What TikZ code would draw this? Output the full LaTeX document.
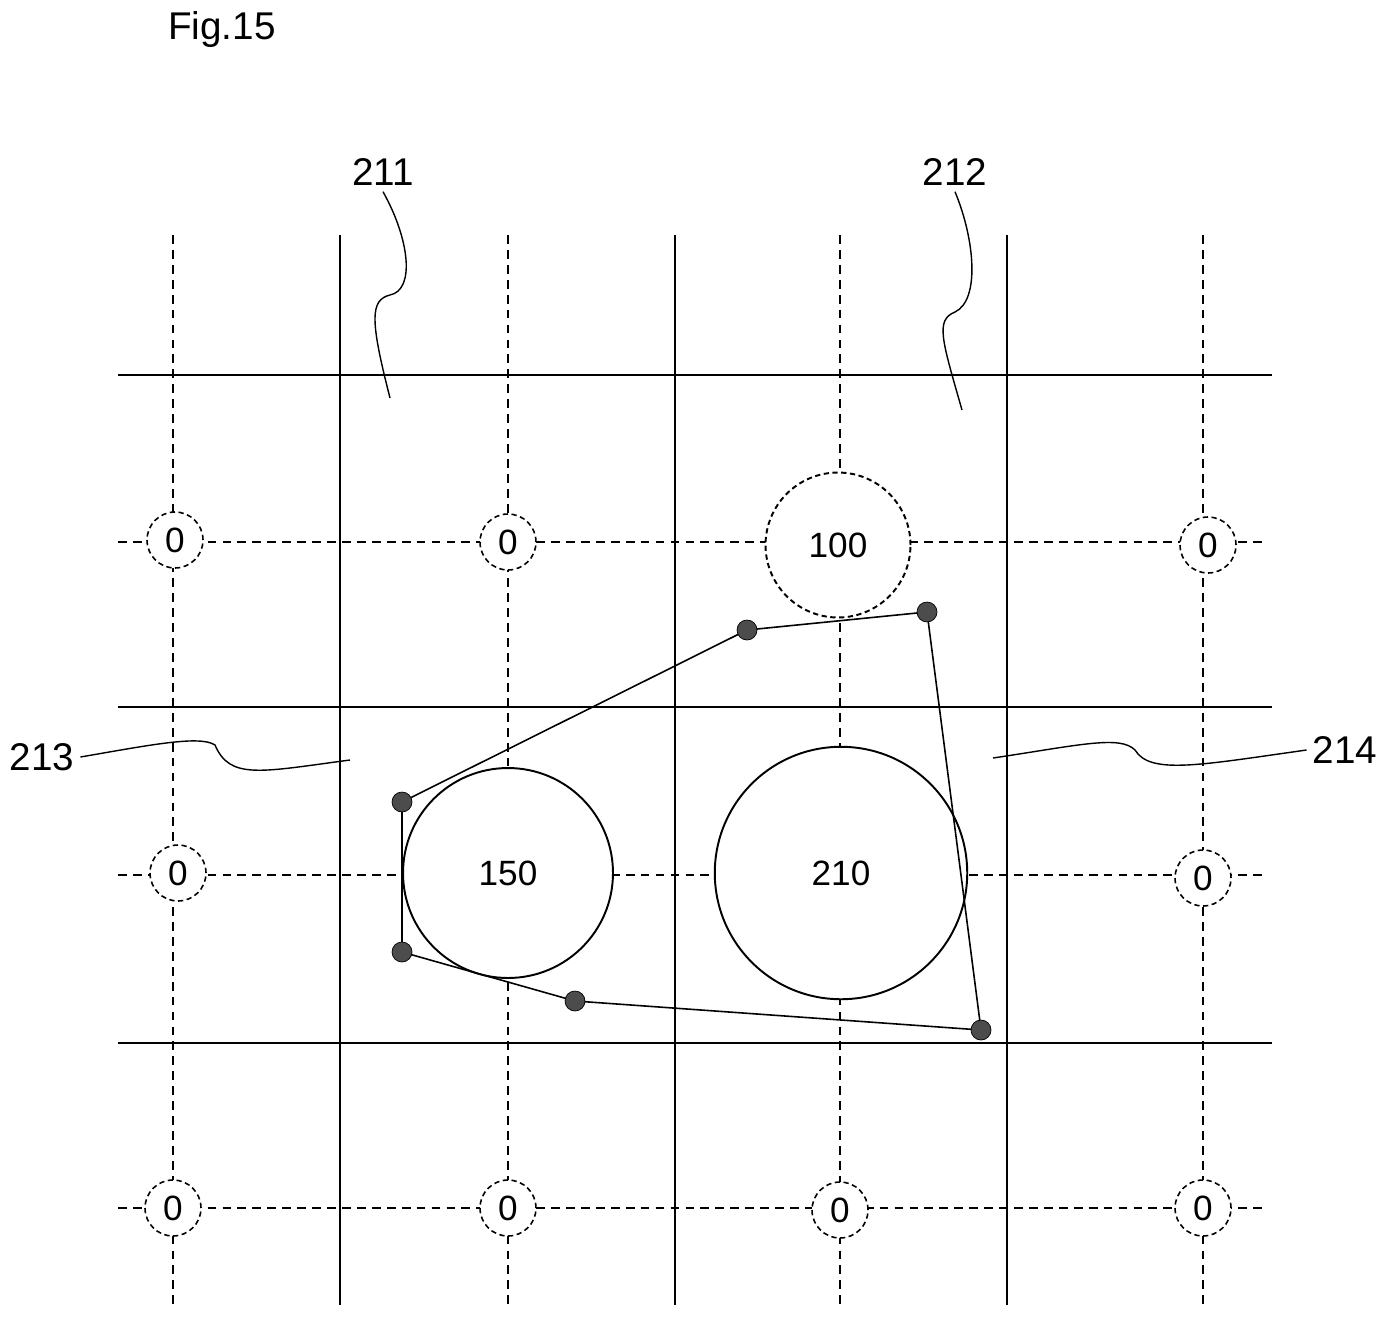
\documentclass[tikz,border=0pt]{standalone}
\usepackage{fontspec}
\setmainfont{Liberation Sans}
\usetikzlibrary{positioning}
\tikzset{
  grid/.style={line width=1.2pt},
  aux/.style={dash pattern=on 5pt off 3.5pt, line width=0.6pt},
  zero/.style={circle, draw, densely dashed, line width=0.9pt, minimum size=1.12cm, inner sep=0pt},
  cell/.style={circle, draw, line width=1.1pt, inner sep=0pt},
  pt/.style={circle, fill=black!70, draw=black, minimum size=0.4cm, inner sep=0pt},
  lbl/.style={font=\fontsize{22}{26}\selectfont}
}
\begin{document}
\begin{tikzpicture}[x=0.02cm, y=-0.02cm, every node/.style={font=\fontsize{20}{24}\selectfont}]
  \useasboundingbox (0,0) rectangle (1392,1325);

  \node [lbl] (fig) at (222,30) {Fig.15};

  % dashed center lines
  \foreach \x in {173,508,840,1203}
    \draw [aux] (\x,235) -- (\x,1305);
  \foreach \y in {542,875,1208}
    \draw [aux] (118,\y) -- (1262,\y);

  % grid boundaries
  \foreach \x in {340,675,1007}
    \draw [grid] (\x,235) -- (\x,1305);
  \foreach \y in {375,707,1043}
    \draw [grid] (118,\y) -- (1272,\y);

  % zero cells
  \foreach \x/\y [count=\i] in {175/540,508/542,1208/545,178/873,1203/878,173/1208,508/1208,840/1210,1203/1208}
    \node [zero, fill=white] (z\i) at (\x,\y) {0};

  \node [cell, densely dashed, fill=white, minimum size=2.9cm] (c100) at (838,545) {100};
  \node [cell, fill=white, minimum size=4.2cm] (c150) at (508,873) {150};
  \node [cell, fill=white, minimum size=5.05cm] (c210) at (841,873) {210};

  % hull
  \foreach \n/\x/\y in {p1/747/630,p2/927/612,p3/981/1030,p4/575/1001,p5/402/952,p6/402/802}
    \coordinate (\n) at (\x,\y);
  \draw [line width=0.9pt] (p1) -- (p2) -- (p3) -- (p4) -- (p5) -- (p6) -- cycle;
  \foreach \n in {p1,p2,p3,p4,p5,p6}
    \node [pt] at (\n) {};

  % labels
  \node [lbl] (l211) at (383,172) {211};
  \node [lbl] (l212) at (955,172) {212};
  \node [lbl] (l213) at (42,757) {213};
  \node [lbl] (l214) at (1345,750) {214};
  \draw [line width=0.8pt] (390,398) .. controls (370,320) and (370,300) .. (390,295)
    .. controls (415,290) and (410,240) .. (l211.south);
  \draw [line width=0.8pt] (962,410) .. controls (942,340) and (935,320) .. (955,312)
    .. controls (980,300) and (975,240) .. (l212.south);
  \draw [line width=0.8pt] (l213.east) .. controls (150,745) and (200,735) .. (215,745)
    .. controls (230,780) and (260,772) .. (350,760);
  \draw [line width=0.8pt] (993,758) .. controls (1080,745) and (1120,735) .. (1135,750)
    .. controls (1150,775) and (1200,765) .. (l214.west);
\end{tikzpicture}
\end{document}
